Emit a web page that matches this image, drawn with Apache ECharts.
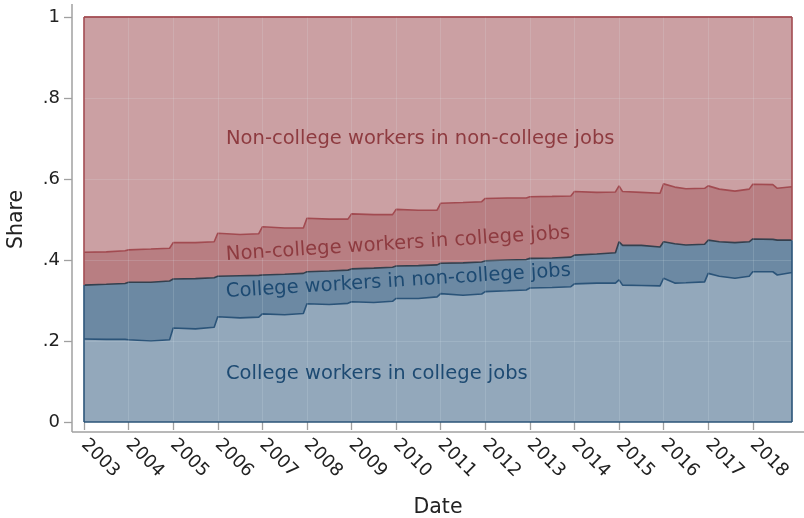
<!DOCTYPE html>
<html>
<head>
<meta charset="utf-8">
<script src="https://cdn.jsdelivr.net/npm/echarts@6/dist/echarts.min.js"></script>
<style>
  html, body { margin: 0; padding: 0; background: #fff; }
  #chart { width: 804px; height: 518px; }
</style>
</head>
<body>
<div id="chart"></div>
<script>
// time points (decimal years) where the shares were read
const dates = [
  2003.0, 2003.5, 2003.92, 2004.0, 2004.5, 2004.92, 2005.0, 2005.5, 2005.92,
  2006.0, 2006.5, 2006.92, 2007.0, 2007.5, 2007.92, 2008.0, 2008.5, 2008.92,
  2009.0, 2009.5, 2009.92, 2010.0, 2010.5, 2010.92, 2011.0, 2011.5, 2011.92,
  2012.0, 2012.5, 2012.92, 2013.0, 2013.5, 2013.92, 2014.0, 2014.5, 2014.92,
  2015.0, 2015.08, 2015.5, 2015.92, 2016.0, 2016.25, 2016.5, 2016.92,
  2017.0, 2017.25, 2017.6, 2017.92, 2018.0, 2018.45, 2018.55, 2018.88
];

const years = [2003, 2004, 2005, 2006, 2007, 2008, 2009, 2010, 2011, 2012,
  2013, 2014, 2015, 2016, 2017, 2018];

// shares, bottom to top
const collegeInCollege = [
  .205, .204, .204, .203, .200, .203, .232, .230, .234, .260, .257, .259,
  .267, .265, .268, .292, .290, .293, .297, .295, .298, .305, .305, .309,
  .317, .313, .316, .322, .324, .326, .331, .332, .334, .341, .343, .343,
  .351, .338, .337, .336, .355, .343, .344, .346, .367, .360, .355, .360,
  .371, .371, .363, .369
];
const collegeInNonCollege = [
  .133, .136, .138, .142, .145, .145, .121, .124, .122, .100, .104, .103,
  .096, .100, .099, .079, .083, .082, .081, .085, .084, .080, .081, .079,
  .075, .080, .079, .076, .076, .075, .073, .073, .073, .071, .072, .075,
  .094, .098, .099, .096, .090, .097, .093, .093, .082, .085, .088, .085,
  .081, .080, .086, .080
];
const nonCollegeInCollege = [
  .081, .080, .081, .080, .082, .081, .090, .089, .089, .106, .102, .103,
  .119, .114, .112, .132, .128, .126, .136, .132, .130, .140, .137, .135,
  .148, .149, .149, .154, .153, .152, .152, .152, .151, .157, .152, .150,
  .138, .133, .131, .133, .143, .140, .139, .138, .134, .130, .127, .130,
  .135, .135, .128, .132
];
const nonCollegeInNonCollege = [
  .581, .580, .577, .575, .573, .571, .557, .557, .555, .534, .537, .535,
  .518, .521, .521, .497, .499, .499, .486, .488, .488, .475, .477, .477,
  .460, .458, .456, .448, .447, .447, .444, .443, .442, .431, .433, .432,
  .417, .431, .433, .435, .412, .420, .424, .423, .417, .425, .430, .425,
  .413, .414, .423, .419
];

const font = 'DejaVu Sans';
const blueLine = '#2b5479';
const redLine = '#a24b51';
const gridColor = 'rgba(225,236,240,0.16)';

const chart = echarts.init(document.getElementById('chart'));

// running totals, so each band is drawn from 0 up to its upper edge,
// top band first and the others painted over it
const layers = [collegeInCollege, collegeInNonCollege, nonCollegeInCollege, nonCollegeInNonCollege];
const tops = [];
let run = dates.map(() => 0);
layers.forEach((vals) => {
  run = run.map((s, i) => Math.min(1, s + vals[i]));
  tops.push(run);
});

const first = 0, last = dates.length - 1;
const pairs = (vals) => dates.map((d, i) => [d, vals[i]]);
const edge = (x, y0, y1) => [{ coord: [x, y0] }, { coord: [x, y1] }];

function band(name, vals, fill, line, extra) {
  return Object.assign({
    name: name,
    type: 'line',
    data: pairs(vals),
    symbol: 'none',
    silent: true,
    lineStyle: { color: line, width: 1.6 },
    areaStyle: { color: fill, opacity: 1, origin: 'start' },
    z: 2
  }, extra || {});
}

const outline = (color, data) => ({
  silent: true,
  symbol: 'none',
  label: { show: false },
  lineStyle: { color: color, width: 1.6, type: 'solid' },
  animation: false,
  data: data
});

chart.setOption({
  animation: false,
  grid: { left: 84, right: 12, top: 17, bottom: 96, containLabel: false, outerBoundsMode: 'none' },
  xAxis: {
    type: 'value',
    min: dates[first],
    max: dates[last],
    interval: 1,
    offset: 10,
    z: 3,
    name: 'Date',
    nameLocation: 'middle',
    nameGap: 65,
    nameTextStyle: { fontFamily: font, fontSize: 20.5, color: '#222' },
    axisLine: { show: false },
    axisTick: { show: true, customValues: years, length: 8, lineStyle: { color: '#a0a0a0', width: 1.3 } },
    axisLabel: {
      customValues: years,
      formatter: (v) => String(v),
      rotate: -45,
      margin: 10,
      fontFamily: font,
      fontSize: 18,
      color: '#222'
    },
    splitLine: { show: true, lineStyle: { color: gridColor, width: 1 } }
  },
  yAxis: {
    type: 'value',
    min: 0,
    max: 1,
    interval: 0.2,
    offset: 12,
    z: 3,
    name: 'Share',
    nameLocation: 'middle',
    nameGap: 45,
    nameTextStyle: { fontFamily: font, fontSize: 20.5, color: '#222' },
    axisLine: { show: false },
    axisTick: { show: true, length: 8, lineStyle: { color: '#a0a0a0', width: 1.3 } },
    axisLabel: {
      margin: 12,
      fontFamily: font,
      fontSize: 18,
      color: '#222',
      formatter: (v) => (v === 0 ? '0' : v === 1 ? '1' : String(Math.round(v * 10) / 10).replace('0.', '.'))
    },
    splitLine: { show: true, lineStyle: { color: gridColor, width: 1 } }
  },
  series: [
    band('Non-college workers in non-college jobs', tops[3], '#cba0a3', redLine, {
      markLine: outline(redLine, [
        [{ coord: [dates[first], 1] }, { coord: [dates[last], 1] }],
        edge(dates[first], tops[1][first], 1),
        edge(dates[last], tops[1][last], 1)
      ])
    }),
    band('Non-college workers in college jobs', tops[2], '#b87e82', redLine),
    band('College workers in non-college jobs', tops[1], '#6c89a3', '#34404e'),
    band('College workers in college jobs', tops[0], '#93a8bb', blueLine, {
      markLine: outline(blueLine, [
        [{ coord: [dates[first], 0] }, { coord: [dates[last], 0] }],
        edge(dates[first], 0, tops[1][first]),
        edge(dates[last], 0, tops[1][last])
      ])
    })
  ],
  graphic: [
    // axis lines, reaching past the plot region like the original
    { type: 'line', shape: { x1: 72, y1: 4, x2: 72, y2: 432 }, style: { stroke: '#a0a0a0', lineWidth: 1.5 }, z: 10 },
    { type: 'line', shape: { x1: 72, y1: 432, x2: 804, y2: 432 }, style: { stroke: '#a0a0a0', lineWidth: 1.5 }, z: 10 },
    {
      type: 'text', x: 226, y: 139, z: 20,
      style: { text: 'Non-college workers in non-college jobs', fill: '#8e3b40', font: '19.5px "DejaVu Sans"', textAlign: 'left', textVerticalAlign: 'middle' }
    },
    {
      type: 'text', x: 226, y: 255, rotation: 0.064, z: 20,
      style: { text: 'Non-college workers in college jobs', fill: '#8e3b40', font: '19.5px "DejaVu Sans"', textAlign: 'left', textVerticalAlign: 'middle' }
    },
    {
      type: 'text', x: 226, y: 292, rotation: 0.062, z: 20,
      style: { text: 'College workers in non-college jobs', fill: '#1d4a72', font: '19.5px "DejaVu Sans"', textAlign: 'left', textVerticalAlign: 'middle' }
    },
    {
      type: 'text', x: 226, y: 374, z: 20,
      style: { text: 'College workers in college jobs', fill: '#1d4a72', font: '19.5px "DejaVu Sans"', textAlign: 'left', textVerticalAlign: 'middle' }
    }
  ]
});
</script>
</body>
</html>
